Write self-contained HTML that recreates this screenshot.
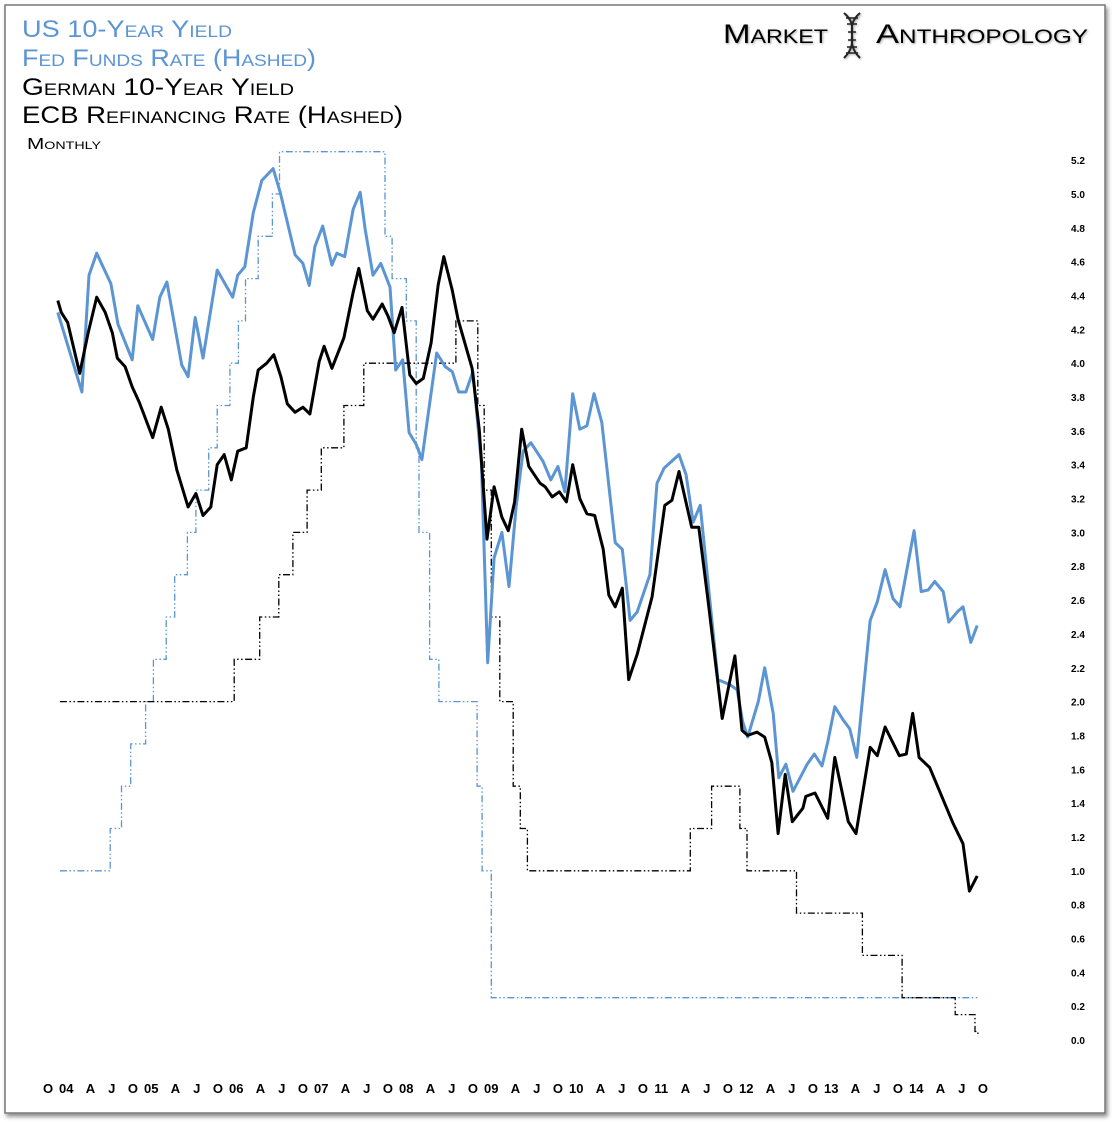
<!DOCTYPE html>
<html><head><meta charset="utf-8"><title>US vs German Yields</title>
<style>
html,body{margin:0;padding:0;background:#fff;}
svg{display:block;font-family:"Liberation Sans",sans-serif;}
.t{font-variant:small-caps;}
</style></head>
<body>
<svg id="chart" width="1114" height="1122" viewBox="0 0 1114 1122" xmlns="http://www.w3.org/2000/svg">
<defs>
<filter id="sh" x="-5%" y="-5%" width="110%" height="110%"><feDropShadow dx="2" dy="3" stdDeviation="2" flood-color="#000" flood-opacity="0.45"/></filter>
<filter id="tsh"><feDropShadow dx="1" dy="1" stdDeviation="1" flood-color="#000" flood-opacity="0.35"/></filter>
</defs>
<rect x="5" y="5" width="1100" height="1108" fill="#fff" stroke="#777" stroke-width="1.5" filter="url(#sh)"/>
<g class="t">
<text x="22" y="37" font-size="24" fill="#5b95d3" textLength="210" lengthAdjust="spacingAndGlyphs">US 10-Year Yield</text>
<text x="22" y="66" font-size="24" fill="#5b95d3" textLength="294" lengthAdjust="spacingAndGlyphs">Fed Funds Rate (Hashed)</text>
<text x="22" y="95" font-size="24" fill="#000" textLength="272" lengthAdjust="spacingAndGlyphs">German 10-Year Yield</text>
<text x="22" y="123" font-size="24" fill="#000" textLength="381" lengthAdjust="spacingAndGlyphs">ECB Refinancing Rate (Hashed)</text>
<text x="27" y="149" font-size="16" fill="#000" textLength="74" lengthAdjust="spacingAndGlyphs">Monthly</text>
</g>
<g filter="url(#tsh)">
<text class="t" x="723" y="43" font-size="27" fill="#000" textLength="105" lengthAdjust="spacingAndGlyphs">Market</text>
<g stroke="#222" fill="none" stroke-width="2">
<path d="M844 13 C862 28 842 40 860 58"/><path d="M860 13 C842 28 862 40 844 58"/>
<path d="M846 18H858M847 24H857M848 32H856M848 40H856M847 47H857M846 53H858" stroke-width="1.5"/>
</g>
<text class="t" x="876" y="43" font-size="27" fill="#000" textLength="212" lengthAdjust="spacingAndGlyphs">Anthropology</text>
</g>
<g id="yaxis"></g>
<g id="xaxis"></g>
<g id="plot"></g>
</svg>
<script>
// Month index 0 = Oct 2003
const usMonths=[1.1,4.5,5.5,6.6,8.6,9.6,11.6,12.4,14.5,15.5,16.5,18.6,19.5,20.5,21.6,23.6,25.8,26.5,27.5,28.7,29.9,31.5,32.5,34.6,35.7,36.6,37.4,38.5,39.8,40.5,41.6,42.8,43.8,44.5,45.6,46.7,48.0,48.8,49.8,50.7,51.7,52.5,53.6,54.6,55.8,56.8,57.7,58.7,59.7,60.9,61.8,62.7,63.8,64.8,65.8,66.8,67.9,69.6,70.7,71.7,72.7,73.8,74.8,75.8,76.8,77.9,79.8,80.8,81.9,82.9,84.7,85.7,86.7,88.8,89.8,90.8,91.8,94.3,96.0,97.0,97.8,98.5,100.0,100.9,102.1,102.9,103.9,104.9,106.9,107.9,109.0,109.8,110.8,112.0,112.9,113.9,115.8,116.8,117.9,119.0,120.0,122.0,123.0,124.0,124.9,126.1,126.9,128.1,128.9,130.0,130.9];
const usYield=[4.30,3.83,4.52,4.65,4.47,4.23,4.02,4.34,4.14,4.39,4.48,3.99,3.92,4.27,4.03,4.55,4.39,4.52,4.57,4.89,5.08,5.15,5.01,4.64,4.59,4.46,4.69,4.81,4.58,4.65,4.63,4.91,5.01,4.79,4.52,4.59,4.45,3.96,4.02,3.59,3.52,3.43,3.76,4.06,3.98,3.95,3.83,3.83,3.95,3.41,2.23,2.85,3.00,2.68,3.15,3.48,3.53,3.42,3.31,3.39,3.24,3.82,3.61,3.63,3.82,3.65,2.94,2.90,2.48,2.53,2.75,3.29,3.38,3.46,3.34,3.06,3.16,2.13,2.10,2.07,1.88,1.79,2.00,2.20,1.93,1.55,1.63,1.47,1.63,1.69,1.62,1.76,1.97,1.89,1.84,1.67,2.48,2.59,2.78,2.61,2.56,3.01,2.65,2.66,2.71,2.65,2.47,2.53,2.56,2.35,2.45];
const deMonths=[1.1,1.6,2.5,4.2,5.4,6.6,7.8,8.8,9.5,10.6,11.6,12.6,14.5,15.7,16.7,17.9,19.5,20.6,21.6,22.7,23.6,24.6,25.6,26.5,27.7,28.7,29.4,30.6,31.6,32.6,33.5,34.6,35.7,36.7,38.0,38.7,39.8,41.5,42.8,43.6,44.8,45.6,46.9,47.7,48.6,49.7,50.8,51.7,52.7,53.8,54.8,55.6,56.8,57.6,59.6,60.6,61.7,62.7,63.8,64.7,65.6,66.6,67.6,69.2,69.9,70.9,71.9,72.9,73.8,74.8,75.8,76.9,78.1,78.9,79.8,80.8,81.7,82.9,85.0,86.8,87.8,88.8,90.6,91.6,92.9,94.9,96.7,97.7,98.5,99.8,100.9,101.9,102.8,103.8,104.8,106.3,106.7,108.0,109.8,110.8,112.7,113.8,115.8,116.8,117.9,119.9,120.9,121.8,122.7,124.2,127.5,128.9,129.8,130.9];
const deYield=[4.37,4.30,4.24,3.94,4.18,4.39,4.30,4.18,4.03,3.98,3.86,3.77,3.56,3.74,3.61,3.37,3.15,3.23,3.10,3.15,3.40,3.46,3.31,3.48,3.50,3.80,3.96,4.00,4.05,3.92,3.76,3.71,3.74,3.70,4.01,4.10,3.97,4.15,4.42,4.56,4.31,4.26,4.35,4.28,4.18,4.33,3.93,3.88,3.91,4.12,4.46,4.63,4.43,4.26,3.97,3.61,2.96,3.27,3.09,3.01,3.18,3.61,3.39,3.29,3.27,3.21,3.24,3.18,3.40,3.20,3.11,3.10,2.90,2.63,2.56,2.67,2.13,2.28,2.62,3.16,3.19,3.36,3.03,3.03,2.60,1.90,2.27,1.83,1.80,1.82,1.79,1.64,1.22,1.57,1.29,1.37,1.44,1.46,1.31,1.67,1.29,1.22,1.73,1.68,1.85,1.68,1.69,1.93,1.67,1.61,1.28,1.16,0.88,0.97];
const fedMonths=[1.4,8.5,10.1,11.4,13.5,14.6,16.4,17.6,19.4,20.6,22.4,23.6,25.4,26.6,27.6,29.4,31.4,32.4,47.3,48.3,50.3,51.7,52.1,53.6,54.9,60.3,61.0,62.3];
const fedRate=[1.00,1.25,1.50,1.75,2.00,2.25,2.50,2.75,3.00,3.25,3.50,3.75,4.00,4.25,4.50,4.75,5.00,5.25,4.75,4.50,4.25,3.50,3.00,2.25,2.00,1.50,1.00,0.25];
const fedEnd=131;
const ecbMonths=[1.4,26.0,29.6,32.3,34.3,36.3,38.3,41.5,44.3,57.3,60.4,61.3,62.3,63.5,65.4,66.4,67.4,90.4,93.4,97.4,98.4,105.4,114.7,120.3,127.8,130.6];
const ecbRate=[2.00,2.25,2.50,2.75,3.00,3.25,3.50,3.75,4.00,4.25,3.75,3.25,2.50,2.00,1.50,1.25,1.00,1.25,1.50,1.25,1.00,0.75,0.50,0.25,0.15,0.05];
const ecbEnd=131;
const yTicks=[0,0.2,0.4,0.6,0.8,1.0,1.2,1.4,1.6,1.8,2.0,2.2,2.4,2.6,2.8,3.0,3.2,3.4,3.6,3.8,4.0,4.2,4.4,4.6,4.8,5.0,5.2];
const xLabels=["O","04","A","J","O","05","A","J","O","06","A","J","O","07","A","J","O","08","A","J","O","09","A","J","O","10","A","J","O","11","A","J","O","12","A","J","O","13","A","J","O","14","A","J","O"];

const NS="http://www.w3.org/2000/svg";
const X=m=>50+m*7.083;
const Y=v=>1040-v*169.2;
function mk(tag,parent,attrs){const e=document.createElementNS(NS,tag);for(const k in attrs)e.setAttribute(k,attrs[k]);parent.appendChild(e);return e;}

const ya=document.getElementById('yaxis');
yTicks.forEach(v=>{
  const t=mk('text',ya,{x:1078,y:Y(v)+4,'font-size':10,'font-weight':'bold','text-anchor':'middle',fill:'#000'});
  
  
  t.textContent=v.toFixed(1);
});
const xa=document.getElementById('xaxis');
xLabels.forEach((s,i)=>{
  const yr=/\d/.test(s);
  const t=mk('text',xa,{x:X(i*3)-2-(yr?3:0),y:1093,'font-size':13,'font-weight':'bold','text-anchor':'middle',fill:'#000'});
  
  
  t.textContent=s;
});

const plot=document.getElementById('plot');
function stepPath(ms,vs,end){
  let d='M'+X(ms[0]).toFixed(1)+' '+Y(vs[0]).toFixed(1);
  for(let i=1;i<ms.length;i++){d+=' H'+X(ms[i]).toFixed(1)+' V'+Y(vs[i]).toFixed(1);}
  d+=' H'+X(end).toFixed(1);
  return d;
}
function linePath(ms,vs){return ms.map((m,i)=>(i?'L':'M')+X(m).toFixed(1)+' '+Y(vs[i]).toFixed(1)).join(' ');}
const dash='7 2.5 1.5 2.5 1.5 2.5';
const fed=mk('path',plot,{d:stepPath(fedMonths,fedRate,fedEnd),fill:'none',stroke:'#5b95d3','stroke-width':1.3,'stroke-dasharray':dash});


const ecbEndPath=stepPath(ecbMonths,ecbRate,ecbEnd)+' V'+Y(0.02).toFixed(1);
const ecb=mk('path',plot,{d:ecbEndPath,fill:'none',stroke:'#000','stroke-width':1.3,'stroke-dasharray':dash});


const us=mk('path',plot,{d:linePath(usMonths,usYield),fill:'none',stroke:'#5b95d3','stroke-width':3,'stroke-linejoin':'round'});


const de=mk('path',plot,{d:linePath(deMonths,deYield),fill:'none',stroke:'#000','stroke-width':3,'stroke-linejoin':'round'});


</script>
</body></html>
